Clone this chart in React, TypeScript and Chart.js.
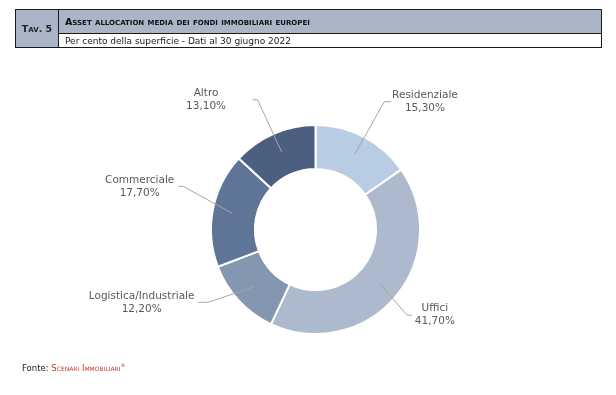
import React, { useEffect, useRef } from "react";
import { Chart, registerables } from "chart.js";

Chart.register(...registerables);

const categories = ["Residenziale", "Uffici", "Logistica/Industriale", "Commerciale", "Altro"];
const values = [15.3, 41.7, 12.2, 17.7, 13.1];
const valueLabels = ["15,30%", "41,70%", "12,20%", "17,70%", "13,10%"];
const colors = ["#b8cce4", "#adb9cd", "#8496b0", "#5f7598", "#4d5f80"];

// label layout: offsets from donut centre, in px at reference radius 105.5
// tx,ty: text block centre; ex: elbow x; hx: horizontal segment end x
const labelLayout = [
  { tx: 110.5, ty: -129, ex: 69.5, hx: 76.5 },
  { tx: 120.5, ty: 86.5, ex: 92.5, hx: 97.5 },
  { tx: -175.5, ty: 73.5, ex: -108.5, hx: -118.5 },
  { tx: -177.5, ty: -43.5, ex: -133.5, hx: -138.5 },
  { tx: -110.5, ty: -131, ex: -58.5, hx: -63.5 },
];

const FONT = '"DejaVu Sans", sans-serif';

const labelPlugin = {
  id: "sliceLabels",
  afterDraw(chart: any) {
    const ctx = chart.ctx;
    const meta = chart.getDatasetMeta(0);
    meta.data.forEach((arc: any, i: number) => {
      const { x, y, startAngle, endAngle, innerRadius, outerRadius } = arc.getProps(
        ["x", "y", "startAngle", "endAngle", "innerRadius", "outerRadius"],
        true
      );
      const k = outerRadius / 105.5;
      const mid = (startAngle + endAngle) / 2;
      const r = (innerRadius + outerRadius) / 2 + 2;
      const px = x + Math.cos(mid) * r;
      const py = y + Math.sin(mid) * r;
      const L = labelLayout[i];
      const ly = y + L.ty * k;
      ctx.save();
      ctx.strokeStyle = "#a6a6a6";
      ctx.lineWidth = 1;
      ctx.beginPath();
      ctx.moveTo(px, py);
      ctx.lineTo(x + L.ex * k, ly);
      ctx.lineTo(x + L.hx * k, ly);
      ctx.stroke();
      ctx.fillStyle = "#595959";
      ctx.font = "10.5px " + FONT;
      ctx.textAlign = "center";
      ctx.textBaseline = "middle";
      const tx = x + L.tx * k;
      ctx.fillText(categories[i], tx, ly - 6.5);
      ctx.fillText(valueLabels[i], tx, ly + 6.5);
      ctx.restore();
    });
  },
};

export default function App() {
  const ref = useRef<HTMLCanvasElement>(null);
  useEffect(() => {
    if (!ref.current) return;
    const chart = new Chart(ref.current, {
      type: "doughnut",
      data: {
        labels: categories,
        datasets: [
          {
            data: values,
            backgroundColor: colors,
            borderColor: "#ffffff",
            borderWidth: 2,
            hoverOffset: 0,
          },
        ],
      },
      options: {
        responsive: false,
        animation: false,
        cutout: "58%",
        events: [],
        layout: { padding: { left: 165.5, right: 150.5, top: 124, bottom: 60 } },
        plugins: { legend: { display: false }, tooltip: { enabled: false } },
      },
      plugins: [labelPlugin],
    });
    return () => chart.destroy();
  }, []);

  const cellBorder = "1.5px solid #1a1a1a";
  return (
    <div style={{ position: "absolute", left: 0, top: 0, width: 616, height: 395, background: "#fff", fontFamily: FONT }}>
      <canvas ref={ref} width={616} height={395} style={{ position: "absolute", left: 0, top: 0 }} />
      <div
        style={{
          position: "absolute",
          left: 15,
          top: 9,
          width: 587,
          height: 39,
          border: cellBorder,
          boxSizing: "border-box",
        }}
      >
        <div
          style={{
            position: "absolute",
            left: 0,
            top: 0,
            width: 43,
            height: "100%",
            background: "#aab5c8",
            borderRight: cellBorder,
            boxSizing: "border-box",
            display: "flex",
            alignItems: "center",
            justifyContent: "center",
            fontSize: 9.5,
            fontWeight: "bold",
            fontVariant: "small-caps",
            color: "#222",
          }}
        >
          Tav. 5
        </div>
        <div
          style={{
            position: "absolute",
            left: 43,
            top: 0,
            right: 0,
            height: 24,
            background: "#aab5c8",
            borderBottom: cellBorder,
            boxSizing: "border-box",
            display: "flex",
            alignItems: "center",
            paddingLeft: 6,
            fontSize: 9.5,
            fontWeight: "bold",
            fontVariant: "small-caps",
            color: "#111",
          }}
        >
          Asset allocation media dei fondi immobiliari europei
        </div>
        <div
          style={{
            position: "absolute",
            left: 43,
            top: 24,
            right: 0,
            bottom: 0,
            display: "flex",
            alignItems: "center",
            paddingLeft: 6,
            fontSize: 9,
            color: "#1a1a1a",
          }}
        >
          Per cento della superficie - Dati al 30 giugno 2022
        </div>
      </div>
      <div style={{ position: "absolute", left: 22, top: 362, fontSize: 8.5, color: "#1a1a1a" }}>
        Fonte:{" "}
        <span style={{ color: "#c0392b", fontVariant: "small-caps" }}>
          Scenari Immobiliari<sup style={{ fontSize: 5 }}>®</sup>
        </span>
      </div>
    </div>
  );
}
